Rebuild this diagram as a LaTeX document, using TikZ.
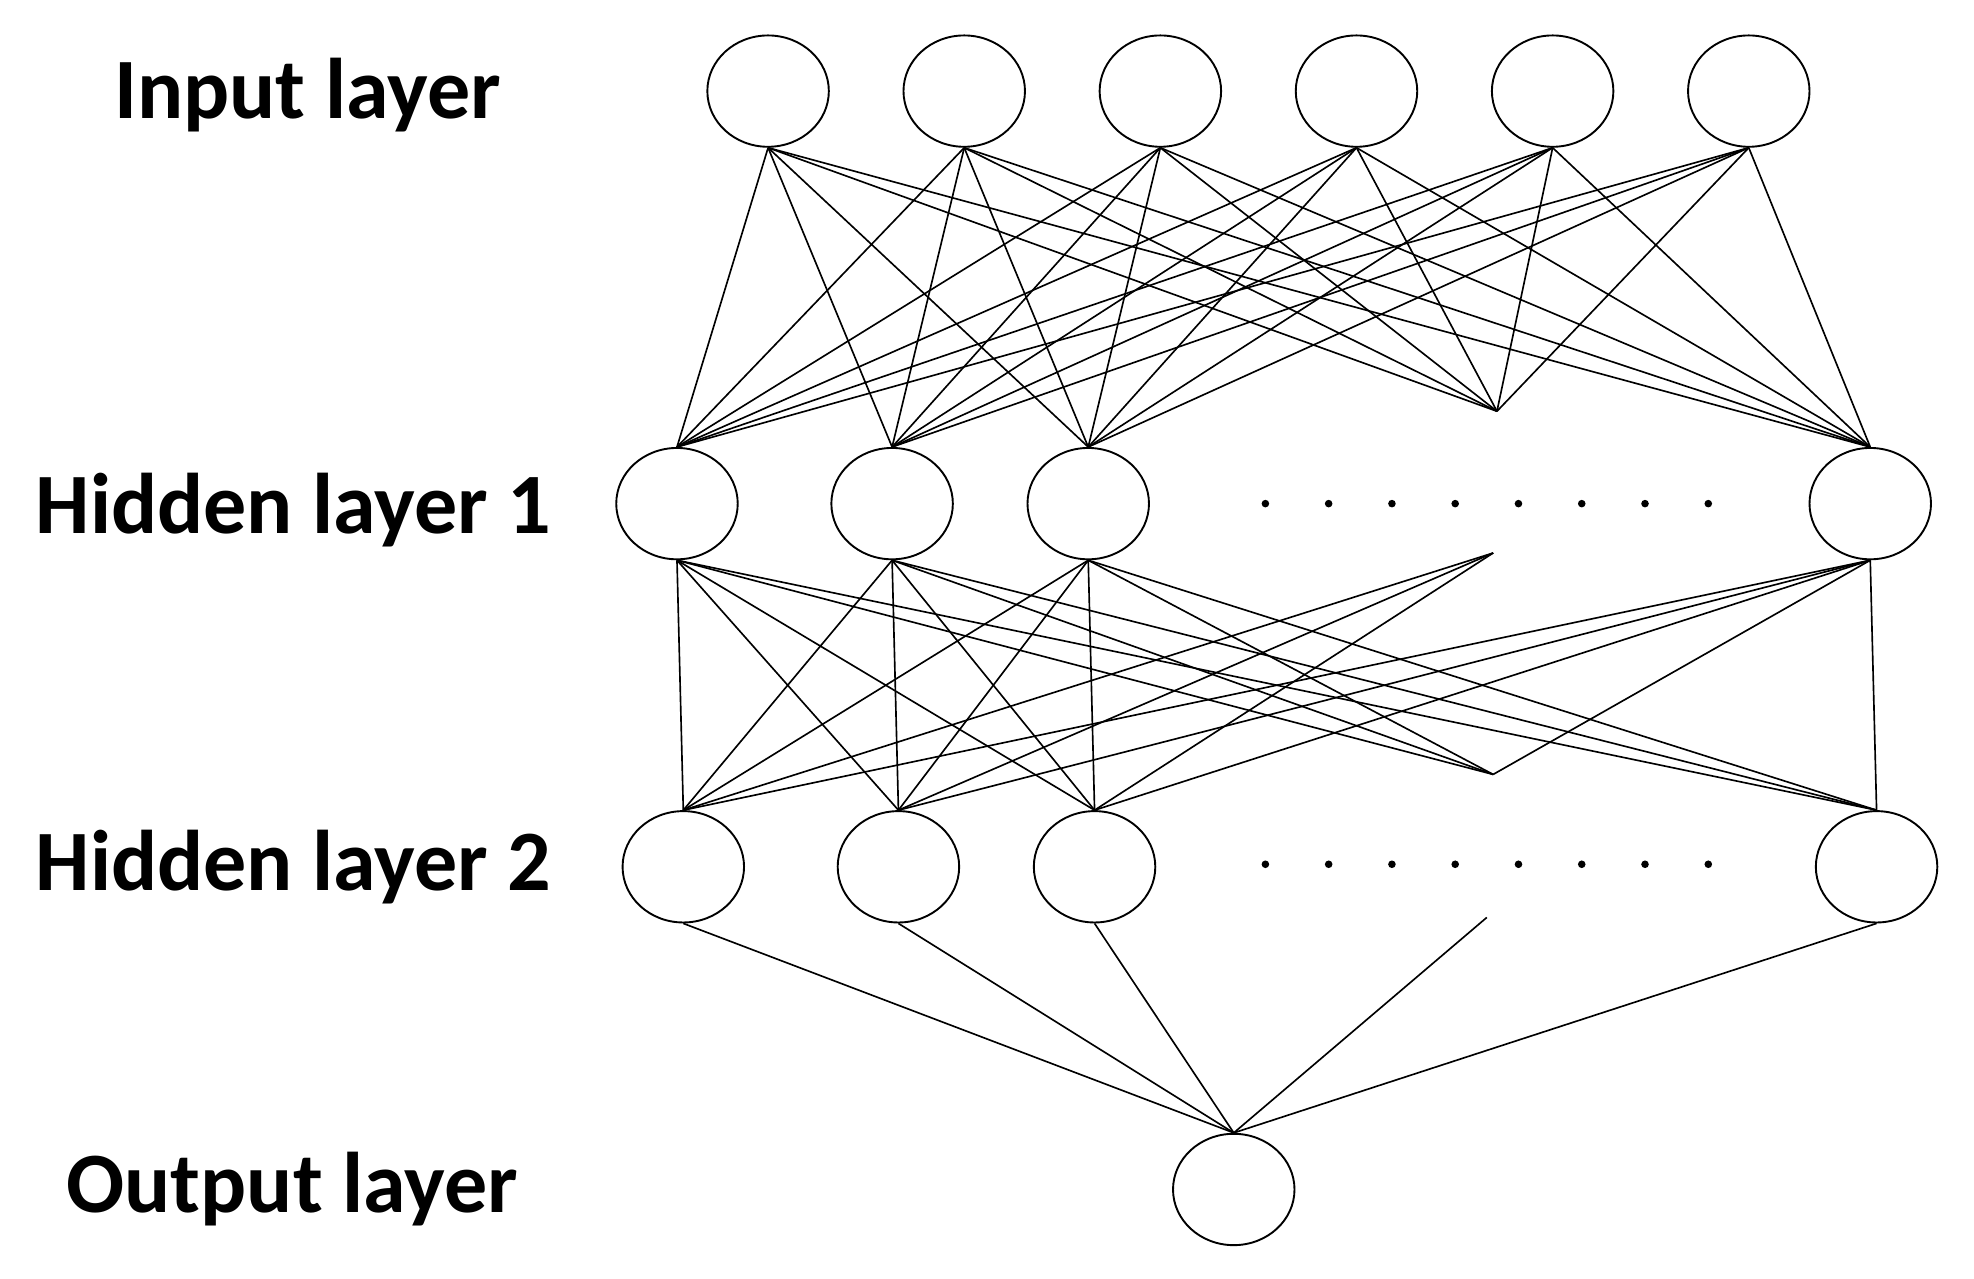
\documentclass[tikz,border=0pt]{standalone}
\usepackage{fontspec}
\setmainfont{Carlito}
\usetikzlibrary{shapes.geometric}
\begin{document}
\begin{tikzpicture}[x=1pt,y=-1pt,
  neu/.style={draw,ellipse,minimum width=96pt,minimum height=88pt,line width=1.5pt,inner sep=0},
  lab/.style={font=\fontsize{68}{72}\selectfont\bfseries,anchor=center},
  con/.style={line width=1.3pt}]
\useasboundingbox (0,0) rectangle (1560,1010);
\node[lab] at (243,75) {Input layer};
\node[lab] at (232,403) {Hidden layer 1};
\node[lab] at (232,685) {Hidden layer 2};
\node[lab] at (231,940) {Output layer};
\foreach \x [count=\i] in {607,762,917,1072,1227,1382} \node[neu] (i\i) at (\x,72) {};
\foreach \x [count=\i] in {535,705,860} \node[neu] (a\i) at (\x,398) {};
\node[neu] (a4) at (1478,398) {};
\foreach \x [count=\i] in {540,710,865} \node[neu] (b\i) at (\x,685) {};
\node[neu] (b4) at (1483,685) {};
\node[neu] (o) at (975,940) {};
\foreach \x in {1000,1050,...,1350} {\fill (\x,398) circle (3pt); \fill (\x,683) circle (3pt);}
\coordinate (pa) at (1183,325);
\coordinate (pat) at (1180,437);
\coordinate (pb) at (1180,612);
\coordinate (pbt) at (1175,725);
\foreach \i in {1,...,6}{
  \foreach \j in {1,...,4} \draw[con] (i\i.south) -- (a\j.north);
  \draw[con] (i\i.south) -- (pa);}
\foreach \i in {1,...,4}{
  \foreach \j in {1,...,4} \draw[con] (a\i.south) -- (b\j.north);
  \draw[con] (a\i.south) -- (pb);
  \draw[con] (b\i.south) -- (o.north);}
\foreach \i in {1,2,3} \draw[con] (pat) -- (b\i.north);
\draw[con] (pbt) -- (o.north);
\end{tikzpicture}
\end{document}
